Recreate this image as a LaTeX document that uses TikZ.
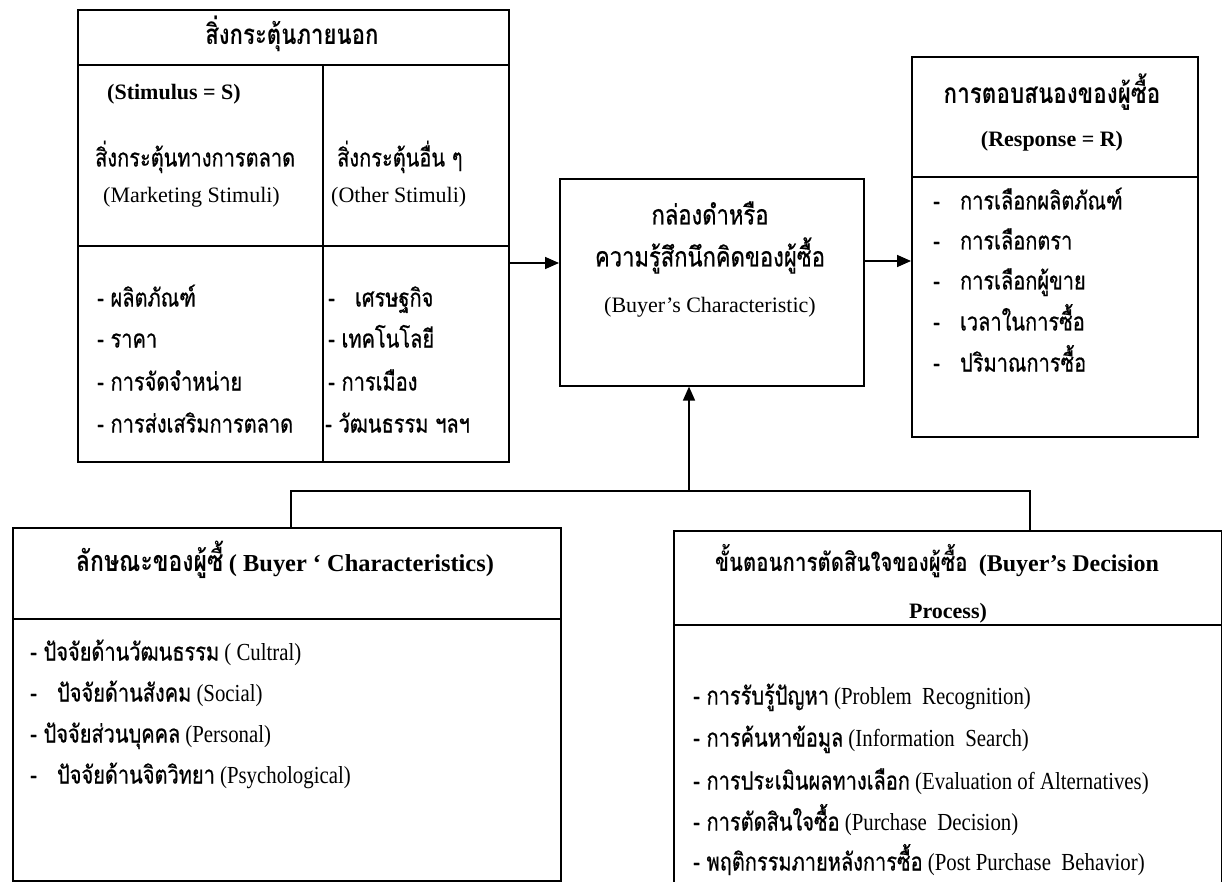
\documentclass[tikz,border=0pt]{standalone}
\usepackage{fontspec}
\setmainfont{Liberation Serif}
\newfontfamily\thai[Script=Thai,FakeStretch=0.8,FakeBold=0.6]{Loma}
\newfontfamily\thaib[Script=Thai,FakeStretch=0.8]{Loma Bold}
\newfontfamily\latc[FakeStretch=0.85]{Liberation Serif}
\usetikzlibrary{arrows.meta}
\tikzset{
  boxline/.style={draw=black, line width=1.6pt},
  box/.style={boxline, rectangle, inner sep=0pt, anchor=north west},
  arr/.style={line width=1.6pt, -{Triangle[length=14pt,width=12pt]}},
  txt/.style={inner sep=0pt, text height=14pt, text depth=5pt, font=\fontsize{22}{26}\selectfont},
  stxt/.style={txt, font=\latc\fontsize{24.5}{28}\selectfont},
  lt/.style={anchor=west},
}
\newcommand{\tht}[2][25]{{\thai\fontsize{#1}{30}\selectfont #2}}
\newcommand{\thb}[2][25]{{\thaib\fontsize{#1}{30}\selectfont #2}}
\begin{document}
\begin{tikzpicture}[x=1pt,y=-1pt]
\useasboundingbox (0,0) rectangle (1222,882);
\clip (0,0) rectangle (1222,882);
\fill[white] (0,0) rectangle (1222,882);
% boxes
\node[box, minimum width=431pt, minimum height=452pt] (stim) at (77,9) {};
\node[box, minimum width=304pt, minimum height=207pt] (bb) at (559,178) {};
\node[box, minimum width=286pt, minimum height=380pt] (resp) at (911,56) {};
\node[box, minimum width=548pt, minimum height=353pt] (chars) at (12,527) {};
\node[box, minimum width=548pt, minimum height=380pt] (proc) at (673,530) {};
% dividers
\draw[boxline] (stim.north west |- 0,65) -- (stim.north east |- 0,65);
\draw[boxline] (stim.north west |- 0,246) -- (stim.north east |- 0,246);
\draw[boxline] (323,65) -- (stim.south -| 323,0);
\draw[boxline] (resp.north west |- 0,177) -- (resp.north east |- 0,177);
\draw[boxline] (chars.north west |- 0,619) -- (chars.north east |- 0,619);
\draw[boxline] (proc.north west |- 0,625) -- (proc.north east |- 0,625);
% connectors
\coordinate (a1) at (508,263);
\coordinate (a2) at (863,261);
\coordinate (jm) at (689,491);
\coordinate (jl) at (291,491);
\coordinate (jr) at (1030,491);
\draw[arr] (stim.east |- a1) -- (bb.west |- a1);
\draw[arr] (bb.east |- a2) -- (resp.west |- a2);
\draw[arr] (jm) -- (jm |- bb.south);
\draw[boxline] (chars.north -| jl) -- (jl) -- (jr) -- (jr |- proc.north);
% top-left texts
\node[txt] (t1) at (292,40) {\thb[27.75]{สิ่งกระตุ้นภายนอก}};
\node[txt,lt] (t2) at (107,95) {\textbf{(Stimulus = S)}};
\node[txt,lt] (t3) at (95,162) {\tht{สิ่งกระตุ้นทางการตลาด}};
\node[txt,lt] (t4) at (103,198) {(Marketing Stimuli)};
\node[txt,lt] (t5) at (337,162) {\tht{สิ่งกระตุ้นอื่น ๆ}};
\node[txt,lt] (t6) at (331,198) {(Other Stimuli)};
\node[txt,lt] (l1) at (97,302) {\tht{- ผลิตภัณฑ์}};
\node[txt,lt] (l2) at (97,343) {\tht{- ราคา}};
\node[txt,lt] (l3) at (97,386) {\tht{- การจัดจำหน่าย}};
\node[txt,lt] (l4) at (97,428) {\tht{- การส่งเสริมการตลาด}};
\node[txt,lt] (r1) at (328,302) {\tht{-~~ เศรษฐกิจ}};
\node[txt,lt] (r2) at (328,343) {\tht{- เทคโนโลยี}};
\node[txt,lt] (r3) at (328,386) {\tht{- การเมือง}};
\node[txt,lt] (r4) at (325,428) {\tht{- วัฒนธรรม ฯลฯ}};
% centre
\node[txt] (c1) at (710,220) {\tht[27.5]{กล่องดำหรือ}};
\node[txt] (c2) at (710,262) {\tht[27.5]{ความรู้สึกนึกคิดของผู้ซื้อ}};
\node[txt] (c3) at (710,308) {(Buyer’s Characteristic)};
% right
\node[txt] (h1) at (1052,99) {\thb[28.1]{การตอบสนองของผู้ซื้อ}};
\node[txt] (h2) at (1052,142) {\textbf{(Response = R)}};
\node[txt,lt] (p1) at (933,205) {\tht{-~~ การเลือกผลิตภัณฑ์}};
\node[txt,lt] (p2) at (933,245) {\tht{-~~ การเลือกตรา}};
\node[txt,lt] (p3) at (933,285) {\tht{-~~ การเลือกผู้ขาย}};
\node[txt,lt] (p4) at (933,326) {\tht{-~~ เวลาในการซื้อ}};
\node[txt,lt] (p5) at (933,367) {\tht{-~~ ปริมาณการซื้อ}};
% bottom-left
\node[txt] (b0) at (285,567) {\thb[28.75]{ลักษณะของผู้ซื้} {\fontsize{24.4}{28}\selectfont\bfseries ( Buyer ‘ Characteristics)}};
\node[stxt,lt] (b1) at (30,656) {\tht{- ปัจจัยด้านวัฒนธรรม} ( Cultral)};
\node[stxt,lt] (b2) at (30,697) {\tht{-~~ ปัจจัยด้านสังคม} (Social)};
\node[stxt,lt] (b3) at (30,738) {\tht{- ปัจจัยส่วนบุคคล} (Personal)};
\node[stxt,lt] (b4) at (30,779) {\tht{-~~ ปัจจัยด้านจิตวิทยา} (Psychological)};
% bottom-right
\node[txt] (d0) at (937,567) {\thb[25.6]{ขั้นตอนการตัดสินใจของผู้ซื้อ}~~{\fontsize{24}{28}\selectfont\bfseries (Buyer’s Decision}};
\node[txt] (d00) at (948,614) {\textbf{Process)}};
\node[stxt,lt] (d1) at (693,700) {\tht{- การรับรู้ปัญหา} (Problem~~Recognition)};
\node[stxt,lt] (d2) at (693,742) {\tht{- การค้นหาข้อมูล} (Information~~Search)};
\node[stxt,lt] (d3) at (693,785) {\tht{- การประเมินผลทางเลือก} (Evaluation of Alternatives)};
\node[stxt,lt] (d4) at (693,826) {\tht{- การตัดสินใจซื้อ} (Purchase~~Decision)};
\node[stxt,lt] (d5) at (693,866) {\tht{- พฤติกรรมภายหลังการซื้อ} (Post Purchase~~Behavior)};
\end{tikzpicture}
\end{document}
